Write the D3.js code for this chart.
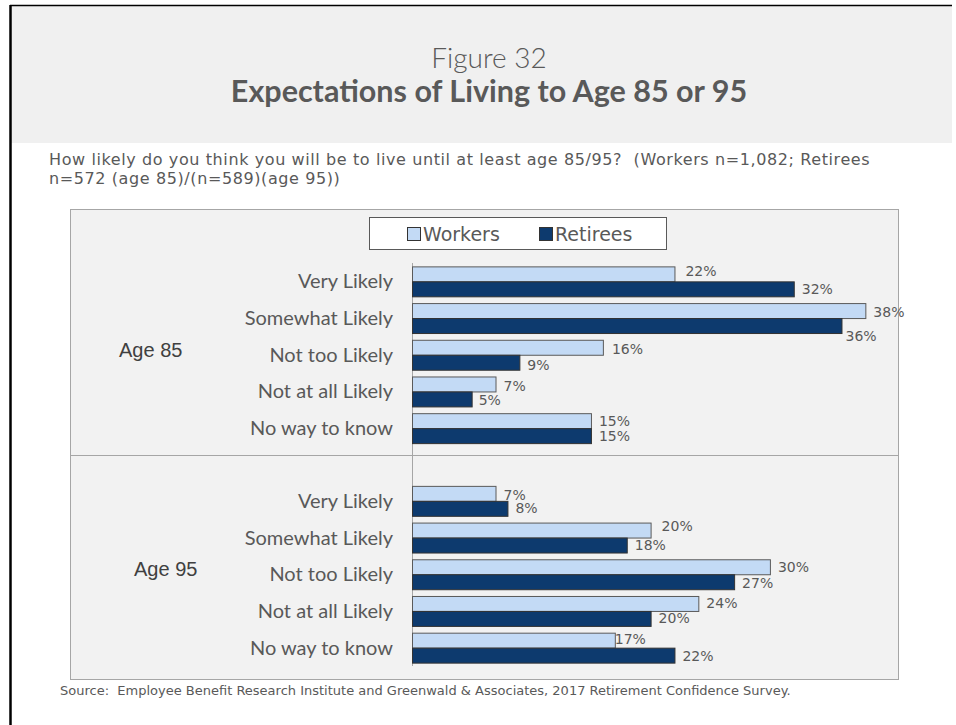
<!DOCTYPE html>
<html>
<head>
<meta charset="utf-8">
<script src="https://cdn.jsdelivr.net/npm/d3@7"></script>
<style>
  html, body { margin: 0; padding: 0; background: #ffffff; }
  svg { display: block; }
</style>
</head>
<body>
<svg id="chart" width="956" height="725"></svg>
<script>
// ---- data ----
const groups = ["Age 85", "Age 95"];
const categories = ["Very Likely", "Somewhat Likely", "Not too Likely", "Not at all Likely", "No way to know"];
const series = ["Workers", "Retirees"];
const workers85 = [22, 38, 16, 7, 15];
const retirees85 = [32, 36, 9, 5, 15];
const workers95 = [7, 20, 30, 24, 17];
const retirees95 = [8, 18, 27, 20, 22];
const titleLine1 = "Figure 32";
const titleLine2 = "Expectations of Living to Age 85 or 95";
const subtitleLines = [
  "How likely do you think you will be to live until at least age 85/95?  (Workers n=1,082; Retirees",
  "n=572 (age 85)/(n=589)(age 95))"
];
const sourceText = "Source:  Employee Benefit Research Institute and Greenwald & Associates, 2017 Retirement Confidence Survey.";

const values = {
  "Age 85": { Workers: workers85, Retirees: retirees85 },
  "Age 95": { Workers: workers95, Retirees: retirees95 }
};

// ---- layout / style ----
const colors = { Workers: "#c3daf5", Retirees: "#0d3a6e" };
const textGray = "#595959";
const LATO = "Lato, 'Open Sans', sans-serif";
const DEJAVU = "'DejaVu Sans', sans-serif";
const ARIAL = "'Liberation Sans', Arial, sans-serif";
const svg = d3.select("#chart");

// frame + header
svg.append("rect").attr("x", 11).attr("y", 6).attr("width", 941).attr("height", 137).attr("fill", "#f0f0f0");
svg.append("line").attr("x1", 10).attr("x2", 952).attr("y1", 5.5).attr("y2", 5.5).attr("stroke", "#000").attr("stroke-width", 1.5);
svg.append("line").attr("x1", 10.5).attr("x2", 10.5).attr("y1", 5).attr("y2", 725).attr("stroke", "#000").attr("stroke-width", 2.5);

svg.append("text").attr("x", 489).attr("y", 68).attr("text-anchor", "middle")
  .style("font-family", LATO).attr("font-size", 28).attr("fill", textGray).attr("font-weight", 300).text(titleLine1);
svg.append("text").attr("x", 489).attr("y", 102).attr("text-anchor", "middle")
  .style("font-family", LATO).attr("font-size", 30.5).attr("fill", textGray).attr("font-weight", 700).text(titleLine2);

svg.selectAll("text.sub").data(subtitleLines).enter().append("text")
  .attr("class", "sub").attr("x", 49).attr("y", (d, i) => 164.5 + i * 19)
  .style("font-family", DEJAVU).style("white-space", "pre").style("letter-spacing", "0.6px")
  .attr("font-size", 16).attr("fill", textGray).text(d => d);

svg.append("text").attr("x", 60).attr("y", 695).style("font-family", DEJAVU).style("white-space", "pre")
  .attr("font-size", 13).attr("fill", textGray).text(sourceText);

// chart box
const box = { x0: 70, x1: 898, y0: 209, y1: 679 };
svg.append("rect").attr("x", box.x0 + 0.5).attr("y", box.y0 + 0.5)
  .attr("width", box.x1 - box.x0).attr("height", box.y1 - box.y0)
  .attr("fill", "#f2f2f2").attr("stroke", "#a6a6a6").attr("stroke-width", 1);
svg.append("line").attr("x1", box.x0).attr("x2", box.x1).attr("y1", 455.5).attr("y2", 455.5)
  .attr("stroke", "#a6a6a6");

// scales
const x = d3.scaleLinear().domain([0, 40]).range([412, 889.2]);
const groupRanges = { "Age 85": [263, 446.5], "Age 95": [482.5, 666] };
const groupLabelPos = { "Age 85": { x: 119, dy: -5 }, "Age 95": { x: 134, dy: -5 } };
const labelNudge = {
  "Age 85|Very Likely|Workers": { dx: 3, dy: -3 },
  "Age 85|Somewhat Likely|Workers": { dx: 0, dy: 1.5 },
  "Age 85|Somewhat Likely|Retirees": { dx: -4, dy: 11 },
  "Age 85|Not too Likely|Workers": { dx: 1, dy: 2 },
  "Age 85|Not too Likely|Retirees": { dx: 0, dy: 2.5 },
  "Age 85|Not at all Likely|Workers": { dx: 0, dy: 2 },
  "Age 85|Not at all Likely|Retirees": { dx: -1, dy: 1 },
  "Age 95|Very Likely|Workers": { dx: 0, dy: 1.5 },
  "Age 95|Somewhat Likely|Workers": { dx: 3, dy: -4 },
  "Age 95|Not too Likely|Workers": { dx: 0, dy: 0.5 },
  "Age 95|Not too Likely|Retirees": { dx: 0, dy: 1 },
  "Age 95|No way to know|Workers": { dx: -8, dy: -1.5 },
  "Age 95|No way to know|Retirees": { dx: 0, dy: 0.5 }
};

// axis line
svg.append("line").attr("x1", x(0) + 0.5).attr("x2", x(0) + 0.5)
  .attr("y1", groupRanges["Age 85"][0]).attr("y2", groupRanges["Age 95"][1])
  .attr("stroke", "#a6a6a6").attr("stroke-width", 1);

groups.forEach(g => {
  const y = d3.scaleBand().domain(categories).range(groupRanges[g]).paddingInner(0.184).paddingOuter(0.092);
  const ys = d3.scaleBand().domain(series).range([0, y.bandwidth()]);
  const gg = svg.append("g");

  // category axis labels (d3.axisLeft, no line/ticks)
  const ax = svg.append("g").attr("transform", `translate(${x(0) - 10},0)`)
    .call(d3.axisLeft(y).tickSize(0).tickPadding(9));
  ax.select(".domain").remove();
  ax.selectAll("text").style("font-family", LATO).attr("font-size", 20)
    .attr("fill", textGray).attr("dy", "0.35em");

  // group label
  const mid = (groupRanges[g][0] + groupRanges[g][1]) / 2;
  svg.append("text").attr("x", groupLabelPos[g].x).attr("y", mid + groupLabelPos[g].dy)
    .attr("dy", "0.35em").style("font-family", ARIAL)
    .attr("font-size", 20).attr("fill", "#404040").text(g);

  series.forEach(s => {
    const data = categories.map((c, i) => ({ c, v: values[g][s][i] }));
    gg.selectAll(null).data(data).enter().append("rect")
      .attr("x", x(0) + 0.5)
      .attr("y", d => y(d.c) + ys(s) + 0.5)
      .attr("width", d => x(d.v) - x(0))
      .attr("height", ys.bandwidth())
      .attr("fill", colors[s])
      .attr("stroke", s === "Workers" ? "#5a5a5a" : "#333333")
      .attr("stroke-width", 1);
    gg.selectAll(null).data(data).enter().append("text")
      .attr("x", d => x(d.v) + 8 + ((labelNudge[`${g}|${d.c}|${s}`] || {}).dx || 0))
      .attr("y", d => y(d.c) + ys(s) + ys.bandwidth() / 2 + ((labelNudge[`${g}|${d.c}|${s}`] || {}).dy || 0))
      .attr("dy", "0.35em")
      .style("font-family", DEJAVU)
      .attr("font-size", 14).attr("fill", textGray)
      .text(d => d.v + "%");
  });
});

// legend
const lg = svg.append("g");
lg.append("rect").attr("x", 369.5).attr("y", 217.5).attr("width", 297).attr("height", 32)
  .attr("fill", "#ffffff").attr("stroke", "#595959").attr("stroke-width", 1);
const legendX = { Workers: 407, Retirees: 539 };
series.forEach(s => {
  lg.append("rect").attr("x", legendX[s] + 0.5).attr("y", 227.5).attr("width", 13).attr("height", 13)
    .attr("fill", colors[s]).attr("stroke", "#333").attr("stroke-width", 1);
  lg.append("text").attr("x", legendX[s] + 16).attr("y", 241).style("font-family", DEJAVU).attr("font-size", 19)
    .attr("fill", textGray).text(s);
});
</script>
</body>
</html>
